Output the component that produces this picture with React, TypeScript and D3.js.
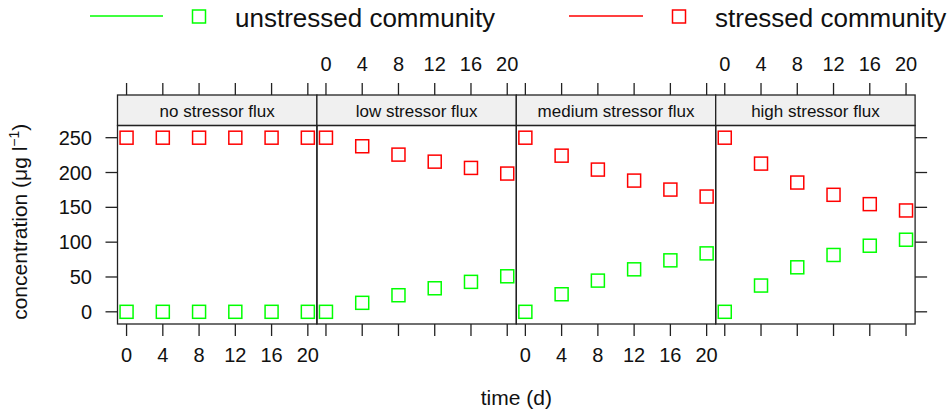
import React from 'react';
import * as d3 from 'd3';

const panelNames = ['no stressor flux', 'low stressor flux', 'medium stressor flux', 'high stressor flux'];
const timeDays = [0, 4, 8, 12, 16, 20];
const yTicks = [0, 50, 100, 150, 200, 250];

// concentration per panel, one value per time point
const unstressed = [
  [0, 0, 0, 0, 0, 0],
  [0, 12.9, 23.8, 33.8, 43, 51],
  [0, 25.2, 44.8, 61, 73.9, 83.9],
  [0, 37.7, 63.9, 81.6, 94.9, 103.5],
];
const stressed = [
  [250, 250, 250, 250, 250, 250],
  [250, 237.7, 225.7, 215.6, 206.6, 198.5],
  [250, 224.2, 204.2, 188.4, 175.5, 165.5],
  [250, 212.8, 185.6, 168, 154.6, 145.5],
];

const seriesList = [
  { name: 'unstressed community', color: '#00ff00', values: unstressed },
  { name: 'stressed community', color: '#ff0000', values: stressed },
];

const W = 949;
const H = 414;
const left = 117.5;
const panelW = 199.4;
const stripTop = 95;
const stripBot = 125.5;
const panelBot = 324;
const font = '"Liberation Sans", Arial, sans-serif';
const frame = '#222';

const App: React.FC = () => {
  const y = d3.scaleLinear().domain([-17.5, 267.5]).range([panelBot, stripBot]);
  const xFor = (i: number) =>
    d3.scaleLinear().domain([-1, 21]).range([left + i * panelW, left + (i + 1) * panelW]);
  const right = left + panelNames.length * panelW;
  const sq = 13;

  return (
    <div style={{ position: 'absolute', left: 0, top: 0 }}>
      <svg width={W} height={H} style={{ display: 'block', fontFamily: font }}>
        <rect width={W} height={H} fill="#fff" />

        {/* legend */}
        {[
          { x0: 90, x1: 163, sx: 199, tx: 235 },
          { x0: 569, x1: 643, sx: 679, tx: 715 },
        ].map((l, i) => (
          <g key={i}>
            <line x1={l.x0} x2={l.x1} y1={16} y2={16} stroke={seriesList[i].color} strokeWidth={1.5} />
            <rect x={l.sx - 6.5} y={10} width={sq} height={sq} fill="none" stroke={seriesList[i].color} strokeWidth={1.5} />
            <text x={l.tx} y={27} fontSize={26} fill="#111">{seriesList[i].name}</text>
          </g>
        ))}

        {panelNames.map((name, i) => {
          const x = xFor(i);
          const [x0, x1] = x.range();
          return (
            <g key={name}>
              {/* strip */}
              <rect x={x0} y={stripTop} width={panelW} height={stripBot - stripTop} fill="#f0f0f0" stroke={frame} strokeWidth={1.3} />
              <text x={(x0 + x1) / 2} y={117} fontSize={17} textAnchor="middle" fill="#111">{name}</text>
              {/* panel */}
              <rect x={x0} y={stripBot} width={panelW} height={panelBot - stripBot} fill="none" stroke={frame} strokeWidth={1.3} />
              {/* ticks top and bottom */}
              {timeDays.map(t => (
                <g key={t}>
                  <line x1={x(t)} x2={x(t)} y1={panelBot} y2={panelBot + 12} stroke={frame} strokeWidth={1.3} />
                  <line x1={x(t)} x2={x(t)} y1={stripTop} y2={stripTop - 12} stroke={frame} strokeWidth={1.3} />
                  {i % 2 === 0 ? (
                    <text x={x(t)} y={362} fontSize={20} textAnchor="middle" fill="#111">{t}</text>
                  ) : (
                    <text x={x(t)} y={71} fontSize={20} textAnchor="middle" fill="#111">{t}</text>
                  )}
                </g>
              ))}
              {/* points */}
              {seriesList.map(s =>
                s.values[i].map((v, j) => (
                  <rect key={s.name + j} x={x(timeDays[j]) - sq / 2} y={y(v) - sq / 2} width={sq} height={sq}
                    fill="none" stroke={s.color} strokeWidth={1.5} />
                ))
              )}
            </g>
          );
        })}

        {/* y axis */}
        {yTicks.map(v => (
          <g key={v}>
            <line x1={left - 12} x2={left} y1={y(v)} y2={y(v)} stroke={frame} strokeWidth={1.3} />
            <line x1={right} x2={right + 12} y1={y(v)} y2={y(v)} stroke={frame} strokeWidth={1.3} />
            <text x={92} y={y(v) + 7} fontSize={20} textAnchor="end" fill="#111">{v}</text>
          </g>
        ))}

        <text transform={`translate(27,${(stripBot + panelBot) / 2 - 3}) rotate(-90)`} fontSize={21} textAnchor="middle" fill="#111">
          concentration (μg l<tspan fontSize={14} dy={-8}>−1</tspan><tspan dy={8}>)</tspan>
        </text>
        <text x={(left + right) / 2} y={405} fontSize={21} textAnchor="middle" fill="#111">time (d)</text>
      </svg>
    </div>
  );
};

export default App;
